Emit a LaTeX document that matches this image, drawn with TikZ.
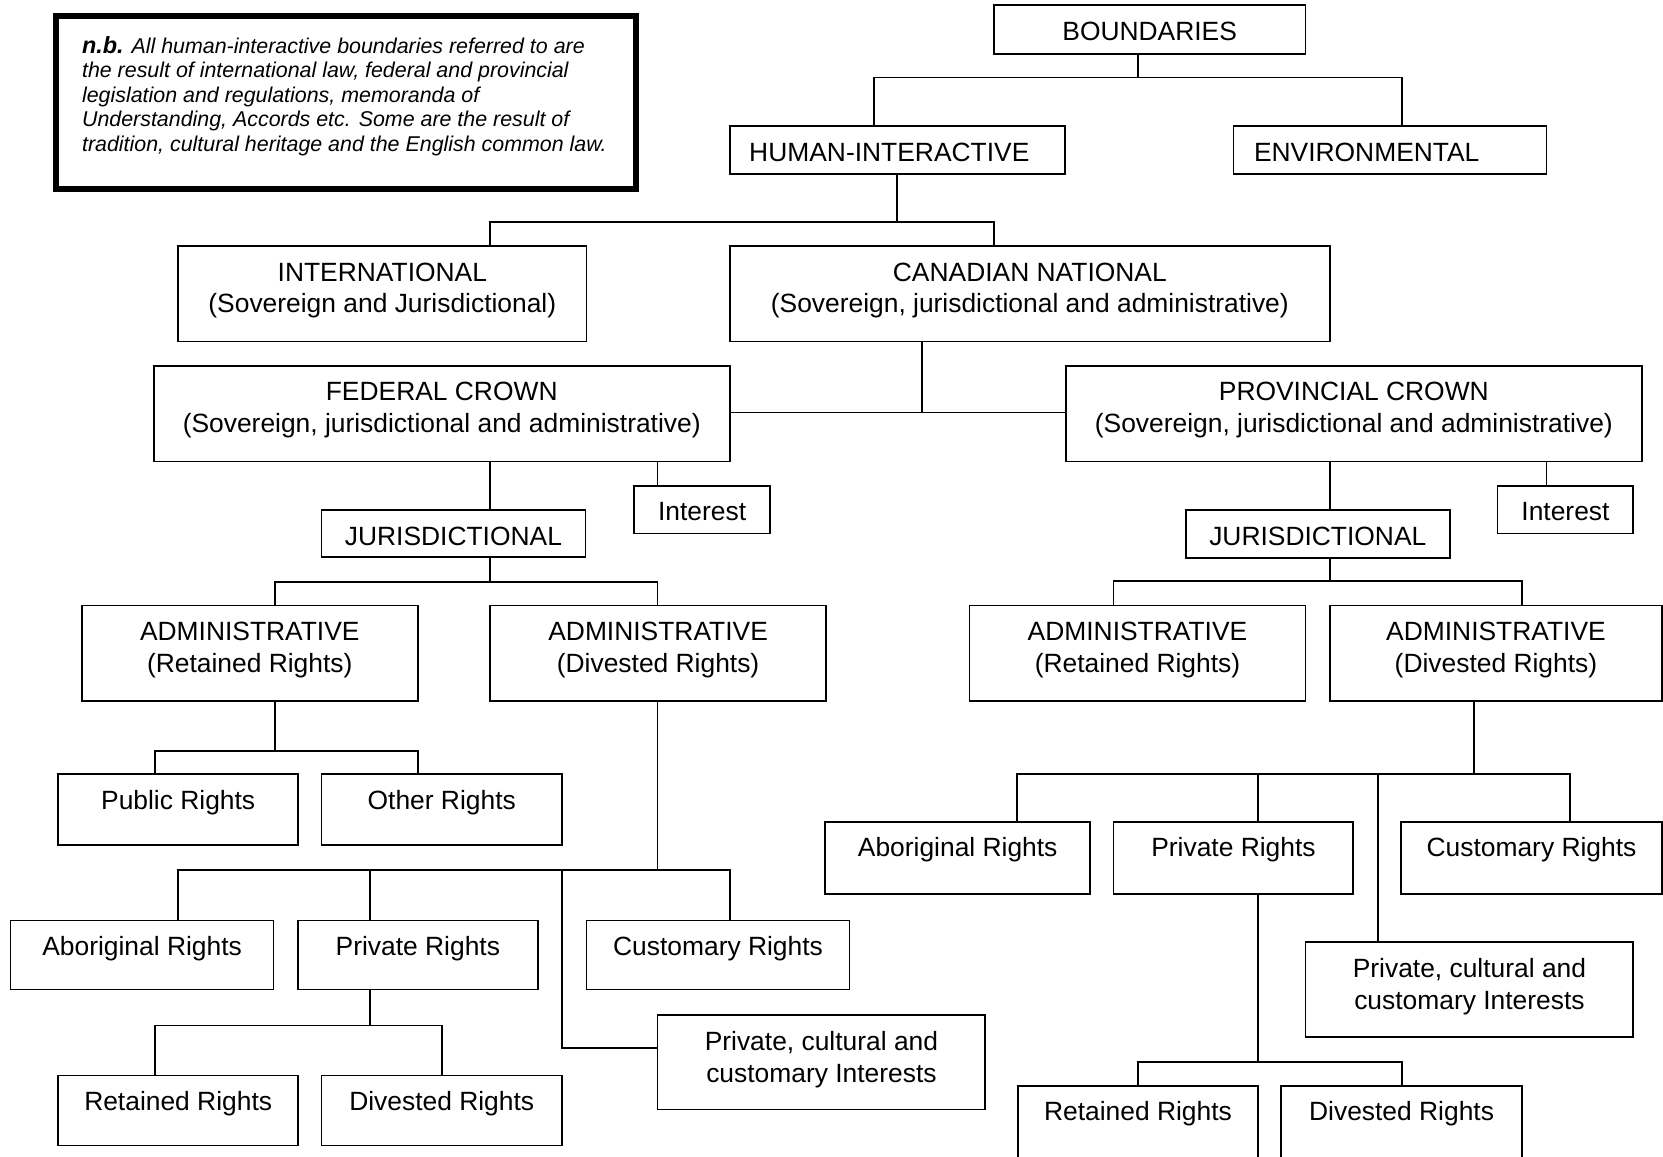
\documentclass[tikz,border=0pt]{standalone}
\usepackage{fontspec}
\setmainfont{Liberation Sans}
\usetikzlibrary{fit}

\begin{document}
\begin{tikzpicture}[x=0.5303pt,y=-0.5303pt,
    font=\fontsize{13.2pt}{15.9pt}\selectfont,
    box/.style={draw,line width=0.85pt,inner sep=0pt},
    lbl/.style={inner sep=0pt,align=center,anchor=north},
    conn/.style={line width=0.85pt}]

    \path [use as bounding box,clip] (0,0) rectangle (1568,1090);

    % Note
    \node [box,line width=3pt,fit={(53,15) (600,178)}] (nb) {};
    \node [inner sep=0pt,anchor=north west,align=left,font=\fontsize{10.7pt}{12.2pt}\selectfont\itshape] (nbtxt) at (77,34)
        {{\fontsize{11.7pt}{12.2pt}\selectfont\bfseries n.b.} All human-interactive boundaries referred to are\\
         the result of international law, federal and provincial\\
         legislation and regulations, memoranda of\\
         Understanding, Accords etc. Some are the result of\\
         tradition, cultural heritage and the English common law.};

    % Top levels
    \node [box,fit={(937,5) (1231,51)}] (bound) {};
    \node [lbl] (boundtxt) at ([yshift=-8.5pt]bound.north) {BOUNDARIES};
    \node [box,fit={(688,119) (1004,164)}] (hum) {};
    \node [lbl,anchor=north west] (humtxt) at ([xshift=10pt,yshift=-8.5pt]hum.north west) {HUMAN-INTERACTIVE};
    \node [box,fit={(1163,119) (1458,164)}] (env) {};
    \node [lbl,anchor=north west] (envtxt) at ([xshift=10.5pt,yshift=-8.5pt]env.north west) {ENVIRONMENTAL};

    \node [box,fit={(168,232) (553,322)}] (intl) {};
    \node [lbl] (intltxt) at ([yshift=-8.5pt]intl.north) {INTERNATIONAL\\(Sovereign and Jurisdictional)};
    \node [box,fit={(688,232) (1254,322)}] (canad) {};
    \node [lbl] (canadtxt) at ([yshift=-8.5pt]canad.north) {CANADIAN NATIONAL\\(Sovereign, jurisdictional and administrative)};

    \node [box,fit={(145,345) (688,435)}] (fed) {};
    \node [lbl] (fedtxt) at ([yshift=-8.5pt]fed.north) {FEDERAL CROWN\\(Sovereign, jurisdictional and administrative)};
    \node [box,fit={(1005,345) (1548,435)}] (prov) {};
    \node [lbl] (provtxt) at ([yshift=-8.5pt]prov.north) {PROVINCIAL CROWN\\(Sovereign, jurisdictional and administrative)};

    % Federal side
    \node [box,fit={(598,458) (726,503)}] (intA) {};
    \node [lbl] (intAtxt) at ([yshift=-8.5pt]intA.north) {Interest};
    \node [box,fit={(303,481) (552,525)}] (jurA) {};
    \node [lbl] (jurAtxt) at ([yshift=-8.5pt]jurA.north) {JURISDICTIONAL};
    \node [box,fit={(77,571) (394,661)}] (admRA) {};
    \node [lbl] (admRAtxt) at ([yshift=-8.5pt]admRA.north) {ADMINISTRATIVE\\(Retained Rights)};
    \node [box,fit={(462,571) (779,661)}] (admDA) {};
    \node [lbl] (admDAtxt) at ([yshift=-8.5pt]admDA.north) {ADMINISTRATIVE\\(Divested Rights)};
    \node [box,fit={(55,730) (281,797)}] (pubA) {};
    \node [lbl] (pubAtxt) at ([yshift=-8.5pt]pubA.north) {Public Rights};
    \node [box,fit={(303,730) (530,797)}] (othA) {};
    \node [lbl] (othAtxt) at ([yshift=-8.5pt]othA.north) {Other Rights};
    \node [box,fit={(10,868) (258,933)}] (aboA) {};
    \node [lbl] (aboAtxt) at ([yshift=-8pt]aboA.north) {Aboriginal Rights};
    \node [box,fit={(281,868) (507,933)}] (privA) {};
    \node [lbl] (privAtxt) at ([yshift=-8pt]privA.north) {Private Rights};
    \node [box,fit={(553,868) (801,933)}] (custA) {};
    \node [lbl] (custAtxt) at ([yshift=-8pt]custA.north) {Customary Rights};
    \node [box,fit={(620,957) (929,1046)}] (pciA) {};
    \node [lbl] (pciAtxt) at ([yshift=-8.5pt]pciA.north) {Private, cultural and\\customary Interests};
    \node [box,fit={(55,1014) (281,1080)}] (retA) {};
    \node [lbl] (retAtxt) at ([yshift=-8pt]retA.north) {Retained Rights};
    \node [box,fit={(303,1014) (530,1080)}] (divA) {};
    \node [lbl] (divAtxt) at ([yshift=-8pt]divA.north) {Divested Rights};

    % Provincial side
    \node [box,fit={(1412,458) (1540,503)}] (intB) {};
    \node [lbl] (intBtxt) at ([yshift=-8.5pt]intB.north) {Interest};
    \node [box,fit={(1118,481) (1367,526)}] (jurB) {};
    \node [lbl] (jurBtxt) at ([yshift=-8.5pt]jurB.north) {JURISDICTIONAL};
    \node [box,fit={(914,571) (1231,661)}] (admRB) {};
    \node [lbl] (admRBtxt) at ([yshift=-8.5pt]admRB.north) {ADMINISTRATIVE\\(Retained Rights)};
    \node [box,fit={(1254,571) (1567,661)}] (admDB) {};
    \node [lbl] (admDBtxt) at ([yshift=-8.5pt]admDB.north) {ADMINISTRATIVE\\(Divested Rights)};
    \node [box,fit={(778,775) (1028,843)}] (aboB) {};
    \node [lbl] (aboBtxt) at ([yshift=-8pt]aboB.north) {Aboriginal Rights};
    \node [box,fit={(1050,775) (1276,843)}] (privB) {};
    \node [lbl] (privBtxt) at ([yshift=-8pt]privB.north) {Private Rights};
    \node [box,fit={(1321,775) (1567,843)}] (custB) {};
    \node [lbl] (custBtxt) at ([yshift=-8pt]custB.north) {Customary Rights};
    \node [box,fit={(1231,888) (1540,978)}] (pciB) {};
    \node [lbl] (pciBtxt) at ([yshift=-8.5pt]pciB.north) {Private, cultural and\\customary Interests};
    \node [box,fit={(960,1024) (1186,1110)}] (retB) {};
    \node [lbl] (retBtxt) at ([yshift=-8pt]retB.north) {Retained Rights};
    \node [box,fit={(1208,1024) (1435,1110)}] (divB) {};
    \node [lbl] (divBtxt) at ([yshift=-8pt]divB.north) {Divested Rights};

    % Connectors: top
    \draw [conn] (1073,0 |- bound.south) -- (1073,73);
    \draw [conn] (824,0 |- hum.north) |- (1322,73) -- (1322,0 |- env.north);
    \draw [conn] (846,0 |- hum.south) -- (846,209);
    \draw [conn] (462,0 |- intl.north) |- (937,209) -- (937,0 |- canad.north);
    \draw [conn] (869,0 |- canad.south) -- (869,389);
    \draw [conn] (fed.east |- 0,389) -- (prov.west |- 0,389);

    % Connectors: federal
    \draw [conn] (462,0 |- fed.south) -- (462,0 |- jurA.north);
    \draw [conn] (620,0 |- fed.south) -- (620,0 |- intA.north);
    \draw [conn] (462,0 |- jurA.south) -- (462,549);
    \draw [conn] (259,0 |- admRA.north) |- (620,549) -- (620,0 |- admDA.north);
    \draw [conn] (259,0 |- admRA.south) -- (259,708);
    \draw [conn] (146,0 |- pubA.north) |- (394,708) -- (394,0 |- othA.north);
    \draw [conn] (620,0 |- admDA.south) -- (620,820);
    \draw [conn] (168,0 |- aboA.north) |- (688,820) -- (688,0 |- custA.north);
    \draw [conn] (349,820) -- (349,0 |- privA.north);
    \draw [conn] (530,820) |- (pciA.west |- 0,988);
    \draw [conn] (349,0 |- privA.south) -- (349,967);
    \draw [conn] (146,0 |- retA.north) |- (417,967) -- (417,0 |- divA.north);

    % Connectors: provincial
    \draw [conn] (1254,0 |- prov.south) -- (1254,0 |- jurB.north);
    \draw [conn] (1458,0 |- prov.south) -- (1458,0 |- intB.north);
    \draw [conn] (1254,0 |- jurB.south) -- (1254,548);
    \draw [conn] (1050,0 |- admRB.north) |- (1435,548) -- (1435,0 |- admDB.north);
    \draw [conn] (1390,0 |- admDB.south) -- (1390,730);
    \draw [conn] (959,0 |- aboB.north) |- (1480,730) -- (1480,0 |- custB.north);
    \draw [conn] (1186,730) -- (1186,0 |- privB.north);
    \draw [conn] (1299,730) -- (1299,0 |- pciB.north);
    \draw [conn] (1186,0 |- privB.south) -- (1186,1001);
    \draw [conn] (1073,0 |- retB.north) |- (1322,1001) -- (1322,0 |- divB.north);

\end{tikzpicture}
\end{document}
